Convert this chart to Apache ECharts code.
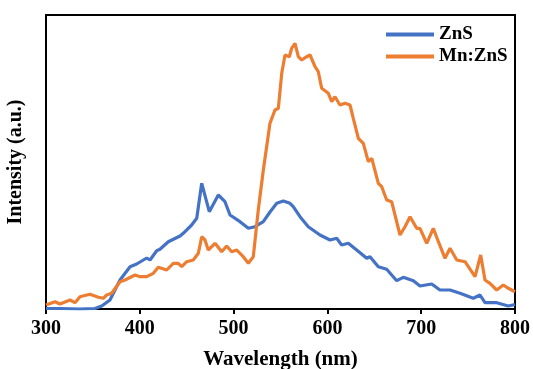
<!DOCTYPE html>
<html>
<head>
<meta charset="utf-8">
<script src="https://cdn.jsdelivr.net/npm/echarts@6/dist/echarts.min.js"></script>
<style>html,body{margin:0;padding:0;background:#fff;}#c{width:533px;height:369px;}</style>
</head>
<body>
<div id="c"></div>
<script>
// Wavelength (nm) and intensity (a.u.)
const znsWl = [300,314.9,336.2,352.2,359.4,368.2,378.9,389.6,396.7,407.4,410.9,418.0,421.5,430.4,432.2,442.9,448.2,455.3,460.7,466.0,474.1,483.7,490.8,496.2,506.8,515.7,522.8,531.7,538.8,546.0,553.0,560.1,563.6,570.8,579.6,592.1,602.8,609.9,615.2,622.3,631.2,641.9,645.4,654.3,663.2,673.9,680.9,691.6,698.7,711.2,720.0,730.7,741.4,755.5,762.7,768.0,780.5,792.9,800];
const znsVal = [0.5,0.5,0,0.5,3,9,29,42.3,45,51,49,58.3,59.7,67.3,69,73,77.3,84,90.7,125.7,97.3,114,107.3,94,87.3,80.7,82.3,87.3,97,105.7,108,105.7,102.3,92.3,82.3,74,69,70.7,64,65.7,59,50.7,52.3,42.3,39.7,28.3,31.7,28.3,23,25,19,19,15.7,10.7,14,6.3,6.3,3,4.5];

const mnWl = [300,309.6,314.9,325.6,330.9,336.2,346.9,355.8,361.1,364.7,370.0,378.9,384.2,394.9,400.2,407.4,414.4,419.7,428.7,435.7,441.0,444.7,450.0,457.0,462.4,466.0,469.5,473.0,480.2,487.3,492.6,498.0,503.3,510.3,515.7,521.0,526.3,531.7,538.8,544.1,547.7,551.3,554.8,559.4,561.9,565.5,569.0,572.6,577.9,581.5,586.8,590.3,593.9,601.0,604.6,608.1,613.4,618.8,624.1,627.6,633.0,638.3,643.6,647.3,654.3,657.9,663.2,668.5,677.4,682.7,688.1,695.2,698.7,705.9,712.9,718.3,725.4,730.7,737.9,746.7,757.4,763.4,768.0,773.3,780.5,787.5,792.9,800];
const mnVal = [4,7.3,5,9,6.3,12.3,14.7,11.7,10.7,14,15.7,27.3,29,34,32.3,32.3,35.7,41.7,39,45.7,45.7,42.3,47.3,49,55.7,72.3,69,59,65.7,57.3,63,57.3,59,52.3,45.7,52.3,99,139,185.7,199,200.7,235.7,254,252.3,260.7,265.7,252.3,249,252.3,254,242.3,237.3,220.7,215.7,207.3,212.3,204,205.7,204,190.7,170.7,165.7,147.3,150.7,125.7,122.3,109,107.3,74,82.3,92.3,80.7,80.7,65.7,80.7,67.3,50.7,60.7,49,47.3,32.3,54,29,25.7,19,24,20.7,17.3];

const seriesNames = ['ZnS', 'Mn:ZnS'];
const xTicks = [300, 400, 500, 600, 700, 800];

const font = 'Liberation Serif';
const chart = echarts.init(document.getElementById('c'), null, {renderer: 'canvas'});
chart.setOption({
  animation: false,
  backgroundColor: '#fff',
  grid: {left: 46, right: 18, top: 15, bottom: 60, outerBoundsMode: 'none', containLabel: false,
         show: true, borderColor: '#000', borderWidth: 2, backgroundColor: 'transparent'},
  legend: {
    data: seriesNames, orient: 'vertical', left: 381, top: 20, itemWidth: 48, itemHeight: 4, itemGap: 3,
    icon: 'rect',
    textStyle: {fontFamily: font, fontWeight: 'bold', fontSize: 19, color: '#000'}
  },
  xAxis: {
    type: 'value', min: xTicks[0], max: xTicks[xTicks.length - 1], interval: 100,
    axisLine: {onZero: false, lineStyle: {color: '#000', width: 2}},
    axisTick: {show: true, inside: false, length: 5, lineStyle: {color: '#000', width: 2}},
    axisLabel: {fontFamily: font, fontWeight: 'bold', fontSize: 20, color: '#000', margin: 10},
    splitLine: {show: false},
    name: 'Wavelength (nm)', nameLocation: 'middle', nameGap: 40,
    nameTextStyle: {fontFamily: font, fontWeight: 'bold', fontSize: 21, color: '#000'}
  },
  yAxis: {
    type: 'value', min: 0, max: 294,
    axisLine: {show: true, lineStyle: {color: '#000', width: 2}},
    axisTick: {show: false}, axisLabel: {show: false}, splitLine: {show: false},
    name: 'Intensity (a.u.)', nameLocation: 'middle', nameGap: 20, nameRotate: 90,
    nameTextStyle: {fontFamily: font, fontWeight: 'bold', fontSize: 20, color: '#000'}
  },
  series: [
    {name: seriesNames[0], type: 'line', showSymbol: false, smooth: false, color: '#4472C4',
     lineStyle: {width: 3.2, color: '#4472C4'}, data: znsWl.map((w, i) => [w, znsVal[i]])},
    {name: seriesNames[1], type: 'line', showSymbol: false, smooth: false, color: '#ED7D31',
     lineStyle: {width: 3.2, color: '#ED7D31'}, data: mnWl.map((w, i) => [w, mnVal[i]])}
  ]
});
</script>
</body>
</html>
